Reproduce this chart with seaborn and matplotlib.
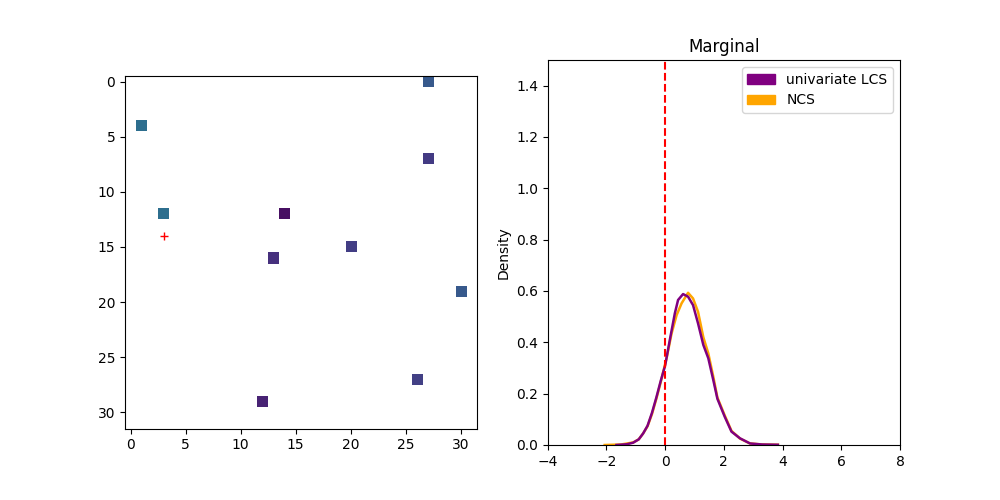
import numpy as np
import pandas as pd
import matplotlib
matplotlib.use("Agg")
import matplotlib.pyplot as plt
import matplotlib.patches as mpatches
import seaborn as sns

# occupied grid cells (row, col) and their values
rows = [0, 4, 7, 12, 12, 15, 16, 19, 27, 29]
cols = [27, 1, 27, 3, 14, 20, 13, 30, 26, 12]
vals = [0.28, 0.36, 0.17, 0.36, 0.04, 0.18, 0.14, 0.28, 0.19, 0.10]
grid_size = 32
target = (3, 14)

# marginal densities
lcs_x = [-1.66, -1.3, -1.09, -0.9, -0.75, -0.6, -0.45, -0.3, -0.15, 0.0, 0.16, 0.33, 0.44,
         0.61, 0.78, 0.95, 1.12, 1.30, 1.47, 1.64, 1.78, 2.03, 2.26, 2.55, 2.89, 3.3, 3.84]
lcs_y = [0.0, 0.003, 0.009, 0.022, 0.045, 0.075, 0.125, 0.185, 0.25, 0.31, 0.41, 0.513,
         0.565, 0.588, 0.578, 0.545, 0.474, 0.39, 0.338, 0.253, 0.18, 0.11, 0.052, 0.026,
         0.006, 0.002, 0.001]
ncs_x = [-2.06, -1.5, -1.09, -0.9, -0.75, -0.6, -0.45, -0.3, -0.15, 0.06, 0.22, 0.39,
         0.56, 0.78, 0.95, 1.12, 1.30, 1.47, 1.64, 1.78, 2.03, 2.26, 2.55, 2.89, 3.3, 3.84]
ncs_y = [0.0, 0.002, 0.01, 0.022, 0.045, 0.073, 0.12, 0.18, 0.245, 0.344, 0.435, 0.506,
         0.552, 0.593, 0.571, 0.519, 0.42, 0.357, 0.266, 0.185, 0.115, 0.055, 0.025,
         0.006, 0.002, 0.001]

grid = np.full((grid_size, grid_size), np.nan)
for r, c, v in zip(rows, cols, vals):
    grid[r, c] = v

fig, (ax1, ax2) = plt.subplots(1, 2, figsize=(10, 5), dpi=100)

ax1.imshow(grid, cmap="viridis", vmin=0, vmax=1)
ax1.plot(target[0], target[1], "r+")

df = pd.concat([
    pd.DataFrame({"x": lcs_x, "density": lcs_y, "method": "univariate LCS"}),
    pd.DataFrame({"x": ncs_x, "density": ncs_y, "method": "NCS"}),
])
sns.lineplot(data=df[df.method == "NCS"], x="x", y="density", color="orange",
             linewidth=1.8, ax=ax2)
sns.lineplot(data=df[df.method == "univariate LCS"], x="x", y="density", color="purple",
             linewidth=1.8, ax=ax2)
ax2.axvline(0, color="red", linestyle="--")
ax2.set_xlim(-4, 8)
ax2.set_ylim(0, 1.5)
ax2.set_xlabel("")
ax2.set_ylabel("Density")
ax2.set_title("Marginal")
handles = [mpatches.Patch(color="purple", label="univariate LCS"),
           mpatches.Patch(color="orange", label="NCS")]
ax2.legend(handles=handles, loc="upper right")

fig.savefig("out.png")
